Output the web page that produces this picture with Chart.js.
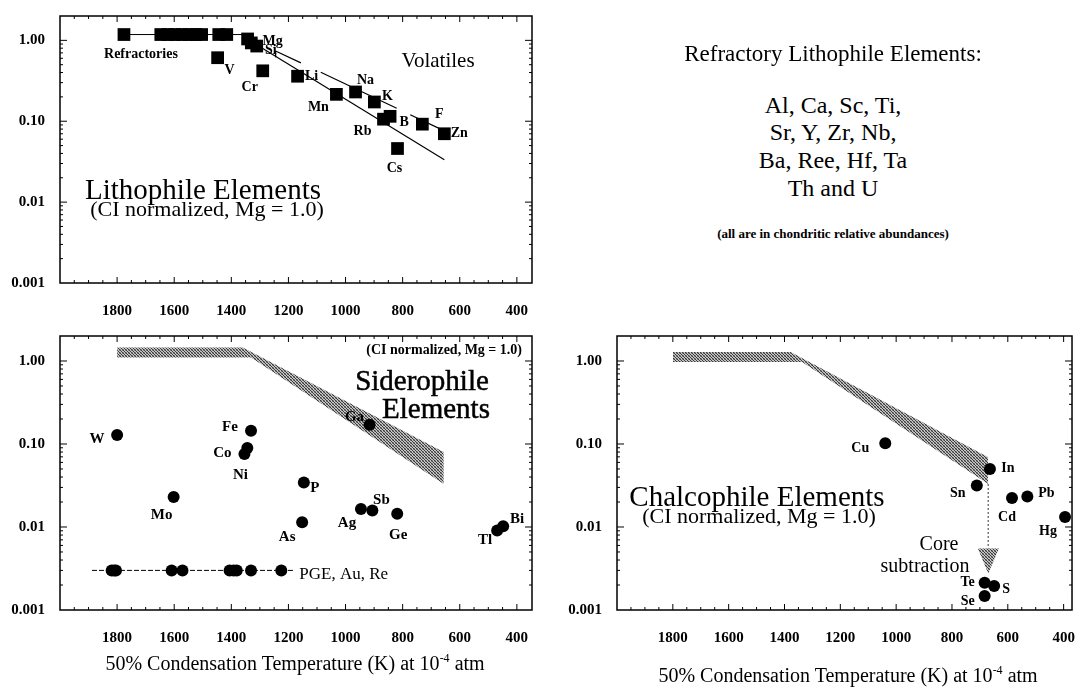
<!DOCTYPE html>
<html>
<head>
<meta charset="utf-8">
<script src="https://cdn.jsdelivr.net/npm/chart.js@4.4.0/dist/chart.umd.min.js"></script>
<style>
  body { margin: 0; background: #fff; width: 1086px; height: 688px; position: relative; overflow: hidden;
         font-family: "Liberation Serif", "Times New Roman", serif; color: #000; }
  canvas { position: absolute; }
  .t { position: absolute; white-space: nowrap; line-height: 1; transform: translate(-50%, -50%); }
  .r { transform: translate(-100%, -50%); }
  .b { font-weight: bold; }
  .h { -webkit-text-stroke: 0.5px #000; }
  sup { font-size: 12px; line-height: 0; }
</style>
</head>
<body>
<canvas id="litho" width="560" height="320" style="left:0;top:0"></canvas>
<canvas id="sidero" width="560" height="368" style="left:0;top:320px"></canvas>
<canvas id="chalco" width="526" height="368" style="left:560px;top:320px"></canvas>

<div class="t" style="left:203px;top:189px;font-size:29px">Lithophile Elements</div>
<div class="t" style="left:207px;top:209px;font-size:22px">(CI normalized, Mg = 1.0)</div>
<div class="t" style="left:438px;top:60px;font-size:21px">Volatiles</div>

<div class="t" style="left:833px;top:53px;font-size:23px">Refractory Lithophile Elements:</div>
<div class="t" style="left:833px;top:105px;font-size:24px">Al, Ca, Sc, Ti,</div>
<div class="t" style="left:833px;top:132px;font-size:24px">Sr, Y, Zr, Nb,</div>
<div class="t" style="left:833px;top:160px;font-size:24px">Ba, Ree, Hf, Ta</div>
<div class="t" style="left:833px;top:188px;font-size:24px">Th and U</div>
<div class="t b" style="left:833px;top:233px;font-size:13px">(all are in chondritic relative abundances)</div>

<div class="t r b" style="left:522px;top:350px;font-size:14px">(CI normalized, Mg = 1.0)</div>
<div class="t h" style="left:422px;top:380px;font-size:29px">Siderophile</div>
<div class="t h" style="left:436px;top:408px;font-size:29px">Elements</div>
<div class="t" style="left:295px;top:663px;font-size:20px">50% Condensation Temperature (K) at 10<sup>-4</sup> atm</div>

<div class="t" style="left:757px;top:496px;font-size:29px">Chalcophile Elements</div>
<div class="t" style="left:759px;top:516px;font-size:22px">(CI normalized, Mg = 1.0)</div>
<div class="t" style="left:939px;top:543px;font-size:20px">Core</div>
<div class="t" style="left:925px;top:565px;font-size:20px">subtraction</div>
<div class="t" style="left:848px;top:675px;font-size:20px">50% Condensation Temperature (K) at 10<sup>-4</sup> atm</div>

<script>
// ---- data (temperature in K, abundance CI normalized) ----
var xTickValues = [1800, 1600, 1400, 1200, 1000, 800, 600, 400];
var yTickValues = [0.001, 0.01, 0.1, 1];
var yTickLabels = ['0.001', '0.01', '0.10', '1.00'];

// lithophile
var refractoryT = [1776, 1647, 1622, 1598, 1573, 1549, 1525, 1504, 1444, 1416];
var refractoryV = [1.18, 1.18, 1.18, 1.18, 1.18, 1.18, 1.18, 1.18, 1.18, 1.18];
var refLineT = [1776, 1346];
var refLineV = [1.18, 1.18];
var lithoNames = ['Mg', '', 'Si', 'V', 'Cr', 'Li', 'Mn', 'Na', 'K', 'Rb', 'B', 'Cs', 'F', 'Zn'];
var lithoT = [1343, 1330, 1311, 1448, 1290, 1168, 1032, 965, 899, 867, 844, 818, 731, 654];
var lithoV = [1.04, 0.93, 0.85, 0.61, 0.42, 0.36, 0.215, 0.23, 0.173, 0.106, 0.115, 0.046, 0.092, 0.070];
var trendLowT = [1324, 654];
var trendLowV = [0.94, 0.0334];
var trendHighT = [1245, 654];
var trendHighV = [0.74, 0.076];
var bracketT = [1245, 1245];
var bracketV = [0.74, 0.62];

// siderophile
var sideroNames = ['W', 'Mo', 'Fe', 'Co', 'Ni', 'P', 'As', 'Ga', 'Ag', 'Sb', 'Ge', 'Tl', 'Bi'];
var sideroT = [1800, 1602, 1331, 1344, 1354, 1146, 1152, 916, 946, 906, 819, 469, 448];
var sideroV = [0.128, 0.023, 0.144, 0.0896, 0.076, 0.0343, 0.0114, 0.170, 0.0165, 0.0158, 0.0144, 0.0091, 0.0102];
var pgeT = [1819, 1810, 1804, 1609, 1571, 1406, 1392, 1381, 1331, 1225];
var pgeV = [0.003, 0.003, 0.003, 0.003, 0.003, 0.003, 0.003, 0.003, 0.003, 0.003];
var pgeLineT = [1888, 1181];
var pgeLineV = [0.003, 0.003];
var sideroBandTopT = [1800, 1360, 656];
var sideroBandTopV = [1.45, 1.45, 0.080];
var sideroBandBotT = [1800, 1331, 656];
var sideroBandBotV = [1.10, 1.10, 0.033];

// chalcophile
var chalcoNames = ['Cu', 'In', 'Sn', 'Cd', 'Pb', 'Hg', 'Te', 'S', 'Se'];
var chalcoT = [1039, 664, 711, 585, 530, 395, 683, 649, 683];
var chalcoV = [0.102, 0.050, 0.0316, 0.0223, 0.0233, 0.0132, 0.00213, 0.00194, 0.00147];
var chalcoBandTopT = [1800, 1378, 670];
var chalcoBandTopV = [1.28, 1.28, 0.069];
var chalcoBandBotT = [1800, 1337, 670];
var chalcoBandBotV = [0.97, 0.97, 0.033];
var coreArrowT = [670, 670];
var coreArrowV = [0.033, 0.0055];
var arrowHeadTopT = [707, 632];
var arrowHeadTopV = [0.0055, 0.0055];
var arrowHeadBotT = [707, 670, 632];
var arrowHeadBotV = [0.0055, 0.00275, 0.0055];

// ---- label placement (pixel offsets from the marker) ----
var lithoOffsets = [[25, 2], [0, 0], [14, 4], [12, 13], [-13, 17], [14, 0], [-18, 13], [10, -12], [13, -6],
                    [-21, 12], [14, 6], [-3, 20], [17, -10], [15, 0]];
var sideroOffsets = [[-20, 4], [-12, 18], [-21, -4], [-25, 5], [-4, 21], [11, 6], [-15, 15], [-15, -8],
                     [-14, 14], [9, -10], [1, 21], [-12, 10], [14, -7]];
var chalcoOffsets = [[-25, 5], [18, -1], [-19, 8], [-5, 19], [19, -3], [-17, 14], [-17, 0], [12, 3], [-17, 5]];

function pts(xs, ys) {
  return xs.map(function (x, i) { return { x: x, y: ys[i] }; });
}

function stipple(id) {
  var c = document.createElement('canvas');
  c.width = 3; c.height = 3;
  var g = c.getContext('2d');
  g.fillStyle = '#c4c4c4'; g.fillRect(0, 0, 3, 3);
  g.fillStyle = '#3a3a3a'; g.fillRect(0, 0, 1, 1); g.fillRect(1, 1, 1, 1); g.fillRect(2, 2, 1, 1);
  g.fillStyle = '#888'; g.fillRect(2, 0, 1, 1); g.fillRect(0, 2, 1, 1);
  return document.getElementById(id).getContext('2d').createPattern(c, 'repeat');
}

// border, inside ticks on all four sides, element names
var framePlugin = {
  id: 'frame',
  afterDatasetsDraw: function (chart) {
    var ctx = chart.ctx, a = chart.chartArea, x = chart.scales.x, y = chart.scales.y;
    ctx.save();
    ctx.strokeStyle = '#000';
    ctx.lineWidth = 1.5;
    ctx.strokeRect(a.left, a.top, a.right - a.left, a.bottom - a.top);
    ctx.lineWidth = 1;
    ctx.beginPath();
    for (var t = 2000; t >= x.min; t -= 50) {
      var px = x.getPixelForValue(t);
      if (px <= a.left + 1 || px >= a.right - 1) continue;
      var len = t % 200 === 0 ? 6 : 3;
      ctx.moveTo(px, a.bottom); ctx.lineTo(px, a.bottom - len);
      ctx.moveTo(px, a.top); ctx.lineTo(px, a.top + len);
    }
    for (var d = -3; d <= 0; d++) {
      for (var m = 1; m <= 9; m++) {
        var v = m * Math.pow(10, d);
        var py = y.getPixelForValue(v);
        if (py >= a.bottom - 1 || py <= a.top + 1) continue;
        var l2 = m === 1 ? 7 : 3;
        ctx.moveTo(a.left, py); ctx.lineTo(a.left + l2, py);
        ctx.moveTo(a.right, py); ctx.lineTo(a.right - l2, py);
      }
    }
    ctx.stroke();

    ctx.fillStyle = '#000';
    ctx.textBaseline = 'middle';
    chart.data.datasets.forEach(function (ds, i) {
      if (!ds.names) return;
      var meta = chart.getDatasetMeta(i);
      ctx.font = ds.nameFont || 'bold 14px "Liberation Serif"';
      ctx.textAlign = ds.nameAlign || 'center';
      ds.names.forEach(function (n, j) {
        if (!n) return;
        var el = meta.data[j], off = ds.nameOffsets[j];
        ctx.fillText(n, el.x + off[0], el.y + off[1]);
      });
    });
    ctx.restore();
  }
};

var tickFont = { family: 'Liberation Serif', size: 15, weight: 'bold' };

function makeScales(xMin, yWidth, xHeight) {
  return {
    x: {
      type: 'linear', reverse: true, min: xMin, max: 2000,
      afterBuildTicks: function (s) { s.ticks = xTickValues.map(function (v) { return { value: v }; }); },
      afterFit: function (s) { s.height = xHeight; },
      ticks: { autoSkip: false, maxRotation: 0, padding: 11, color: '#000', font: tickFont,
               callback: function (v) { return String(v); } },
      grid: { display: false }, border: { display: false }
    },
    y: {
      type: 'logarithmic', min: 0.001, max: 2,
      afterBuildTicks: function (s) { s.ticks = yTickValues.map(function (v) { return { value: v }; }); },
      afterFit: function (s) { s.width = yWidth; },
      ticks: { padding: 7, color: '#000', font: tickFont,
               callback: function (v) { var k = yTickValues.indexOf(v); return k < 0 ? '' : yTickLabels[k]; } },
      grid: { display: false }, border: { display: false }
    }
  };
}

function baseOptions(xMin, yWidth, xHeight, pad) {
  return {
    responsive: false, animation: false,
    layout: { padding: pad },
    plugins: { legend: { display: false }, tooltip: { enabled: false } },
    scales: makeScales(xMin, yWidth, xHeight)
  };
}

function lineSet(xs, ys, extra) {
  var ds = { data: pts(xs, ys), showLine: true, pointRadius: 0, borderColor: '#000', borderWidth: 1.2,
             fill: false, clip: false };
  for (var k in extra) ds[k] = extra[k];
  return ds;
}

// ---- lithophile ----
new Chart(document.getElementById('litho'), {
  type: 'scatter',
  data: { datasets: [
    { data: pts(lithoT, lithoV), pointStyle: 'rect', pointRadius: 9, backgroundColor: '#000',
      borderWidth: 0, clip: false, names: lithoNames, nameOffsets: lithoOffsets },
    { data: pts(refractoryT, refractoryV), pointStyle: 'rect', pointRadius: 9, backgroundColor: '#000',
      borderWidth: 0, clip: false, names: ['Refractories'], nameOffsets: [[17, 20]] },
    lineSet(refLineT, refLineV, { borderWidth: 1 }),
    lineSet(trendLowT, trendLowV, {}),
    lineSet(trendHighT, trendHighV, { borderDash: [28, 22, 84, 15, 40] }),
    lineSet(bracketT, bracketV, { borderWidth: 1 })
  ] },
  options: baseOptions(347, 60, 37, { left: 0, right: 28, top: 6, bottom: 0 }),
  plugins: [framePlugin]
});

// ---- siderophile ----
var sPat = stipple('sidero');
new Chart(document.getElementById('sidero'), {
  type: 'scatter',
  data: { datasets: [
    { data: pts(sideroT, sideroV), pointRadius: 6, backgroundColor: '#000', borderWidth: 0, clip: false,
      names: sideroNames, nameOffsets: sideroOffsets, nameFont: 'bold 15px "Liberation Serif"' },
    { data: pts(pgeT, pgeV), pointRadius: 6, backgroundColor: '#000', borderWidth: 0, clip: false,
      names: ['', '', '', '', '', '', '', '', '', 'PGE, Au, Re'],
      nameOffsets: [0, 0, 0, 0, 0, 0, 0, 0, 0, [18, 4]], nameAlign: 'left',
      nameFont: '17px "Liberation Serif"' },
    lineSet(pgeLineT, pgeLineV, { borderWidth: 1, borderDash: [5, 2] }),
    lineSet(sideroBandTopT, sideroBandTopV, { borderWidth: 0, fill: '+1', backgroundColor: sPat }),
    lineSet(sideroBandBotT, sideroBandBotV, { borderWidth: 0 })
  ] },
  options: baseOptions(347, 60, 78, { left: 0, right: 28, top: 13, bottom: 0 }),
  plugins: [framePlugin]
});

// ---- chalcophile ----
var cPat = stipple('chalco');
new Chart(document.getElementById('chalco'), {
  type: 'scatter',
  data: { datasets: [
    { data: pts(chalcoT, chalcoV), pointRadius: 6, backgroundColor: '#000', borderWidth: 0, clip: false,
      names: chalcoNames, nameOffsets: chalcoOffsets },
    lineSet(coreArrowT, coreArrowV, { borderWidth: 1.5, borderColor: '#777', borderDash: [2, 2] }),
    lineSet(arrowHeadTopT, arrowHeadTopV, { borderWidth: 0, fill: '+1', backgroundColor: cPat }),
    lineSet(arrowHeadBotT, arrowHeadBotV, { borderWidth: 0 }),
    lineSet(chalcoBandTopT, chalcoBandTopV, { borderWidth: 0, fill: '+1', backgroundColor: cPat }),
    lineSet(chalcoBandBotT, chalcoBandBotV, { borderWidth: 0 })
  ] },
  options: baseOptions(370, 57, 78, { left: 0, right: 3, top: 15, bottom: 0 }),
  plugins: [framePlugin]
});
</script>
</body>
</html>
